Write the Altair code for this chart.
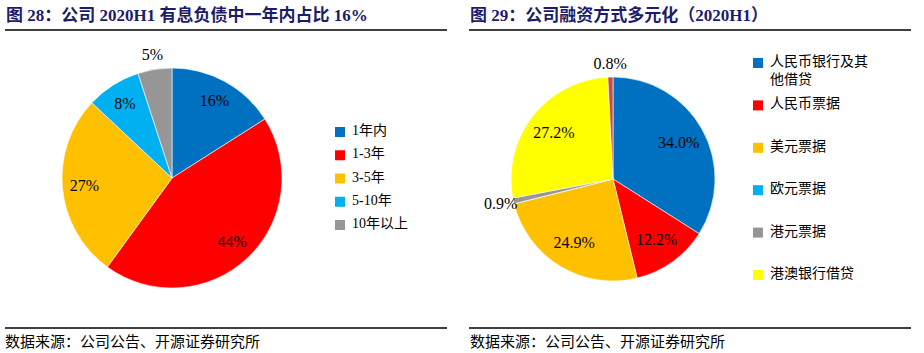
import altair as alt
import pandas as pd

# ---- data ----
pie1_cats = ["1年内", "1-3年", "3-5年", "5-10年", "10年以上"]
pie1_vals = [16, 44, 27, 8, 5]
pie1_colors = ["#0070C0", "#FF0000", "#FFC000", "#00B0F0", "#969696"]

pie2_cats = ["人民币银行及其他借贷", "人民币票据", "美元票据", "欧元票据", "港元票据", "港澳银行借贷", "其他"]
pie2_vals = [34.0, 12.2, 24.9, 0.0, 0.9, 27.2, 0.8]
pie2_colors = ["#0070C0", "#FF0000", "#FFC000", "#00B0F0", "#969696", "#FFFF00", "#C0504D"]
pie2_legend_cats = ["人民币银行及其他借贷", "人民币票据", "美元票据", "欧元票据", "港元票据", "港澳银行借贷"]
pie2_legend_labels = ["人民币银行及其\n他借贷", "人民币票据", "美元票据", "欧元票据", "港元票据", "港澳银行借贷"]

titles = ["图 28：公司 2020H1 有息负债中一年内占比 16%", "图 29：公司融资方式多元化（2020H1）"]
source_note = "数据来源：公司公告、开源证券研究所"

FONT = "Liberation Serif, Noto Sans CJK SC"
TITLE_COLOR = "#1C1C6B"

df1 = pd.DataFrame({"cat": pie1_cats, "value": pie1_vals, "o": list(range(len(pie1_cats)))})
df1["label"] = [f"{v:.0f}%" for v in pie1_vals]
df2 = pd.DataFrame({"cat": pie2_cats, "value": pie2_vals, "o": list(range(len(pie2_cats)))})
df2["label"] = [f"{v:.1f}%" for v in pie2_vals]
leg1 = pd.DataFrame({"cat": pie1_cats, "lab": pie1_cats})
leg2 = pd.DataFrame({"cat": pie2_legend_cats, "lab": pie2_legend_labels})

one = pd.DataFrame({"a": [0]})

C1 = (172, 178)
C2 = (613, 179)


def pie_layers(df, cats, colors, cx, cy, r, r_in, r_out, small):
    cscale = alt.Scale(domain=cats, range=colors)
    theta = alt.Theta("value:Q", stack=True)
    order = alt.Order("o:Q")
    arc = alt.Chart(df).mark_arc(outerRadius=r, stroke="white", strokeWidth=0.6).encode(
        theta=theta, order=order,
        color=alt.Color("cat:N", scale=cscale, legend=None),
        x=alt.value(cx), y=alt.value(cy),
    )
    inner = alt.Chart(df).mark_text(font=FONT, fontSize=16, color="black").encode(
        theta=theta, order=order,
        radius=alt.value(r_in),
        text=alt.condition(f"datum.value >= {small}", "label:N", alt.value("")),
        x=alt.value(cx), y=alt.value(cy),
    )
    outer = alt.Chart(df).mark_text(font=FONT, fontSize=16, color="black").encode(
        theta=theta, order=order,
        radius=alt.value(r_out),
        text=alt.condition(f"datum.value < {small} && datum.value > 0", "label:N", alt.value("")),
        x=alt.value(cx), y=alt.value(cy),
    )
    return [arc, inner, outer]


def legend_layers(leg, cats, colors, sx, tx, y0, y1):
    cscale = alt.Scale(domain=cats, range=colors)
    yscale = alt.Scale(type="point", domain=list(leg["cat"]), range=[y0, y1], padding=0)
    sq = alt.Chart(leg).mark_square(size=100, opacity=1).encode(
        x=alt.value(sx),
        y=alt.Y("cat:N", scale=yscale, axis=None),
        color=alt.Color("cat:N", scale=cscale, legend=None),
    )
    tx_ = alt.Chart(leg).mark_text(font=FONT, fontSize=14, align="left", baseline="top",
                                   dy=-8, lineBreak="\n", lineHeight=18, color="black").encode(
        x=alt.value(tx),
        y=alt.Y("cat:N", scale=yscale, axis=None),
        text="lab:N",
    )
    return [sq, tx_]


def rule(x1, x2, y):
    return alt.Chart(one).mark_rule(color="black", strokeWidth=1.5).encode(
        x=alt.value(x1), x2=alt.value(x2), y=alt.value(y))


def label(text, x, y, size, bold=False, color="black"):
    d = pd.DataFrame({"t": [text]})
    return alt.Chart(d).mark_text(font=FONT, fontSize=size, fontWeight="bold" if bold else "normal",
                                  align="left", baseline="middle", color=color).encode(
        x=alt.value(x), y=alt.value(y), text="t:N")


layers = []
layers += pie_layers(df1, pie1_cats, pie1_colors, C1[0], C1[1], 110, 88, 125, 6)
layers += pie_layers(df2, pie2_cats, pie2_colors, C2[0], C2[1], 102, 75, 115, 2)
layers += legend_layers(leg1, pie1_cats, pie1_colors, 340, 352, 132, 225)
layers += legend_layers(leg2, pie2_cats, pie2_colors, 758, 770, 63, 275)
layers += [
    rule(5, 447, 30), rule(469, 911, 30),
    rule(5, 447, 328), rule(469, 911, 328),
    label(titles[0], 6, 16, 17, True, TITLE_COLOR),
    label(titles[1], 470, 16, 17, True, TITLE_COLOR),
    label(source_note, 5, 342, 15),
    label(source_note, 470, 342, 15),
]

chart = alt.layer(*layers).resolve_scale(
    color="independent", y="independent", theta="independent"
).properties(
    width=924, height=353, padding=0, autosize="none", background="white"
).configure_view(stroke=None)

chart.save("out.html", embed_options={"renderer": "svg", "actions": False})
